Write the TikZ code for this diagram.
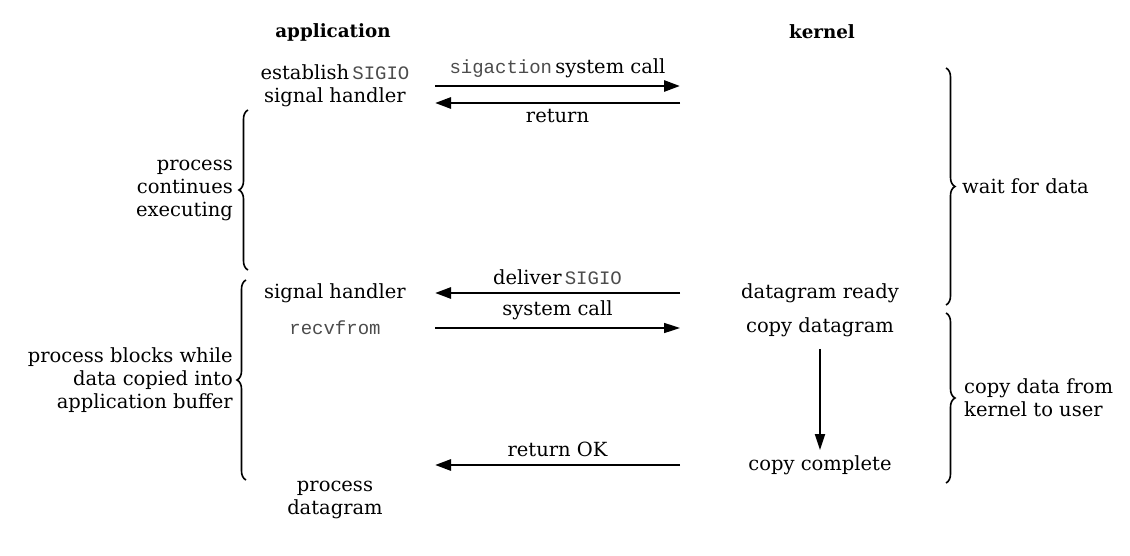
\documentclass[tikz,border=0pt]{standalone}
\usepackage{fontspec}
\setmainfont{DejaVu Serif}
\setmonofont{Liberation Mono}
\usetikzlibrary{arrows.meta,decorations.pathreplacing}
\begin{document}
\begin{tikzpicture}[x=1pt,y=-1pt,
  lbl/.style={inner sep=0pt,font=\fontsize{19.5}{23}\selectfont},
  hdr/.style={inner sep=0pt,font=\fontsize{18.3}{22}\selectfont\bfseries},
  msg/.style={line width=2.8pt,-{Triangle[length=16pt,width=11pt]}},
  thinmsg/.style={line width=1.6pt,-{Triangle[length=16pt,width=10pt]}},
  brc/.style={line width=1.6pt,decorate,decoration={brace,amplitude=9pt}},
  mono/.style={font=\fontsize{19}{20}\selectfont\ttfamily,text=black!70}]
\useasboundingbox (0,0) rectangle (1130,556);
% headers
\node[hdr] (app) at (333,32) {application};
\node[hdr] (ker) at (822,32) {kernel};
% application side
\node[lbl] (est) at (335,72) {establish\,{\fontsize{19}{20}\selectfont\ttfamily\color{black!70}SIGIO}};
\node[lbl] (sh1) at (335,97) {signal handler};
\node[lbl] (sh2) at (335,293) {signal handler};
\node[lbl,mono] (recv) at (335,328) {recvfrom};
\node[lbl,align=center] (proc) at (335,500) {process\\datagram};
% kernel side
\node[lbl] (ready) at (820,293) {datagram ready};
\node[lbl] (copyd) at (820,327) {copy datagram};
\node[lbl] (copyc) at (820,465) {copy complete};
% arrow endpoints
\coordinate (a1s) at (435,86); \coordinate (a1e) at (680,86);
\coordinate (a2s) at (680,103); \coordinate (a2e) at (435,103);
\coordinate (a3s) at (680,293); \coordinate (a3e) at (435,293);
\coordinate (a4s) at (435,328); \coordinate (a4e) at (680,328);
\coordinate (a5s) at (680,465); \coordinate (a5e) at (435,465);
\draw[msg] (a1s) -- node[lbl,above=7pt] (l1) {{\fontsize{19}{20}\selectfont\ttfamily\color{black!70}sigaction}\,system call} (a1e);
\draw[msg] (a2s) -- node[lbl,below=5pt] (l2) {return} (a2e);
\draw[msg] (a3s) -- node[lbl,above=7pt] (l3) {deliver\,{\fontsize{19}{20}\selectfont\ttfamily\color{black!70}SIGIO}} (a3e);
\draw[thinmsg] (a4s) -- node[lbl,above=7pt] (l4) {system call} (a4e);
\draw[msg] (a5s) -- node[lbl,above=7pt] (l5) {return OK} (a5e);
\draw[line width=1.8pt,-{Triangle[length=16pt,width=10pt]}] (copyd.south) ++(0,12) coordinate (vs) -- (820,450) coordinate (ve);
% left braces
\coordinate (b1b) at (248,270); \coordinate (b1t) at (248,110);
\draw[brc] (b1b) -- (b1t);
\node[lbl,align=right,anchor=east] (t1) at (233,190) {process\\continues\\executing};
\coordinate (b2b) at (246,480); \coordinate (b2t) at (246,280);
\draw[brc] (b2b) -- (b2t);
\node[lbl,align=right,anchor=east] (t2) at (233,380) {process blocks while\\data copied into\\application buffer};
% right braces
\coordinate (b3t) at (946,68); \coordinate (b3b) at (946,305);
\draw[brc] (b3t) -- (b3b);
\node[lbl,anchor=west] (t3) at (962,186) {wait for data};
\coordinate (b4t) at (946,313); \coordinate (b4b) at (946,483);
\draw[brc] (b4t) -- (b4b);
\node[lbl,align=left,anchor=west] (t4) at (964,398) {copy data from\\kernel to user};
\end{tikzpicture}
\end{document}
